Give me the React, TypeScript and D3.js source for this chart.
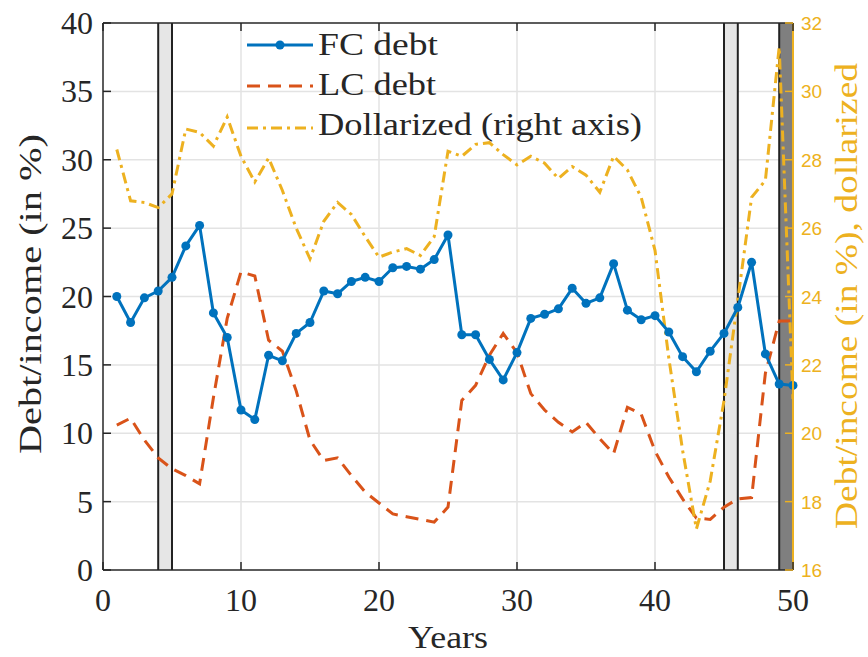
import React from "react";
import * as d3 from "d3";

const years: number[] = Array.from({ length: 50 }, (_, i) => i + 1);

const fcDebt: number[] = [
  20.0, 18.1, 19.9, 20.4, 21.4, 23.7, 25.2, 18.8, 17.0, 11.7,
  11.0, 15.7, 15.3, 17.3, 18.1, 20.4, 20.2, 21.1, 21.4, 21.1,
  22.1, 22.2, 22.0, 22.7, 24.5, 17.2, 17.2, 15.4, 13.9, 15.9,
  18.4, 18.7, 19.1, 20.6, 19.5, 19.9, 22.4, 19.0, 18.3, 18.6,
  17.4, 15.6, 14.5, 16.0, 17.3, 19.2, 22.5, 15.8, 13.6, 13.5,
];

const lcDebt: number[] = [
  10.6, 11.1, 9.5, 8.2, 7.4, 6.9, 6.3, 12.6, 18.4, 21.8,
  21.5, 16.8, 16.0, 13.1, 9.5, 8.0, 8.2, 6.9, 5.7, 4.9,
  4.1, 3.9, 3.7, 3.5, 4.6, 12.4, 13.5, 15.7, 17.3, 15.9,
  12.9, 11.7, 10.8, 10.1, 10.8, 9.6, 8.5, 11.9, 11.4, 8.7,
  6.8, 5.2, 3.8, 3.7, 4.6, 5.2, 5.3, 14.4, 18.2, 18.2,
];

const dollarized: number[] = [
  28.3, 26.8, 26.75, 26.6, 27.0, 28.9, 28.8, 28.4, 29.25, 28.1,
  27.35, 28.05, 27.1, 26.0, 25.1, 26.2, 26.75, 26.4, 25.75, 25.15,
  25.3, 25.4, 25.2, 25.75, 28.25, 28.1, 28.45, 28.5, 28.15, 27.85,
  28.1, 27.9, 27.45, 27.8, 27.55, 27.05, 28.1, 27.7, 26.9, 25.35,
  22.2, 19.5, 17.2, 18.6, 20.95, 23.9, 26.9, 27.4, 31.3, 21.0,
];

const lightBands: [number, number][] = [[4, 5], [45, 46]];
const darkBands: [number, number][] = [[49, 50]];

const xTicks: number[] = [0, 10, 20, 30, 40, 50];
const yLeftTicks: number[] = [0, 5, 10, 15, 20, 25, 30, 35, 40];
const yRightTicks: number[] = [16, 18, 20, 22, 24, 26, 28, 30, 32];

const legendLabels: string[] = ["FC debt", "LC debt", "Dollarized (right axis)"];

const BLUE = "#0072BD";
const RED = "#D95319";
const YELLOW = "#EDB120";
const AXIS = "#262626";
const SERIF = "'Liberation Serif', 'Times New Roman', serif";
const SANS = "'Liberation Sans', Arial, sans-serif";

export default function App() {
  const left = 103, right = 793, top = 23, bottom = 570;
  const x = d3.scaleLinear().domain([0, 50]).range([left, right]);
  const yL = d3.scaleLinear().domain([0, 40]).range([bottom, top]);
  const yR = d3.scaleLinear().domain([16, 32]).range([bottom, top]);

  const lineL = d3.line<number>().x((_, i) => x(years[i])).y((d) => yL(d));
  const lineR = d3.line<number>().x((_, i) => x(years[i])).y((d) => yR(d));

  const tickLen = 8;
  const redDash = "13,8";
  const yelDash = "11,5,3,5";

  return (
    <svg width={868} height={657} style={{ position: "absolute", left: 0, top: 0, background: "#fff" }}>
      <defs>
        <clipPath id="plotclip">
          <rect x={left} y={top} width={right - left} height={bottom - top} />
        </clipPath>
      </defs>
      <rect x={0} y={0} width={868} height={657} fill="#fff" />
      {xTicks.filter((t) => t > 0 && t < 50).map((t) => (
        <line key={"gx" + t} x1={x(t)} x2={x(t)} y1={top} y2={bottom} stroke="#e3e3e3" strokeWidth={1.5} />
      ))}
      {yLeftTicks.filter((t) => t > 0 && t < 40).map((t) => (
        <line key={"gy" + t} x1={left} x2={right} y1={yL(t)} y2={yL(t)} stroke="#e3e3e3" strokeWidth={1.5} />
      ))}
      {lightBands.map(([a, b], i) => (
        <g key={"lb" + i}>
          <rect x={x(a)} y={top} width={x(b) - x(a)} height={bottom - top} fill="#e6e6e6" />
          <line x1={x(a)} x2={x(a)} y1={top} y2={bottom} stroke="#222" strokeWidth={2} />
          <line x1={x(b)} x2={x(b)} y1={top} y2={bottom} stroke="#222" strokeWidth={2} />
        </g>
      ))}
      {darkBands.map(([a, b], i) => (
        <g key={"db" + i}>
          <rect x={x(a)} y={top} width={x(b) - x(a)} height={bottom - top} fill="#7f7f7f" />
          <line x1={x(a)} x2={x(a)} y1={top} y2={bottom} stroke="#222" strokeWidth={2} />
        </g>
      ))}
      <g clipPath="url(#plotclip)">
        <path d={lineL(lcDebt) || ""} fill="none" stroke={RED} strokeWidth={3} strokeDasharray={redDash} />
        <path d={lineR(dollarized) || ""} fill="none" stroke={YELLOW} strokeWidth={3} strokeDasharray={yelDash} />
      </g>
      <path d={lineL(fcDebt) || ""} fill="none" stroke={BLUE} strokeWidth={3} strokeLinejoin="round" />
      {fcDebt.map((v, i) => (
        <circle key={"m" + i} cx={x(years[i])} cy={yL(v)} r={4.5} fill={BLUE} />
      ))}
      <line x1={left} x2={right} y1={top} y2={top} stroke={AXIS} strokeWidth={1.5} />
      <line x1={left} x2={right} y1={bottom} y2={bottom} stroke={AXIS} strokeWidth={1.5} />
      <line x1={left} x2={left} y1={top} y2={bottom} stroke={AXIS} strokeWidth={1.5} />
      <line x1={right} x2={right} y1={top} y2={bottom} stroke={YELLOW} strokeWidth={2} />
      {xTicks.map((t) => (
        <g key={"xt" + t}>
          <line x1={x(t)} x2={x(t)} y1={bottom} y2={bottom - tickLen} stroke={AXIS} strokeWidth={1.5} />
          <line x1={x(t)} x2={x(t)} y1={top} y2={top + tickLen} stroke={AXIS} strokeWidth={1.5} />
          <text x={x(t)} y={611} textAnchor="middle" fontFamily={SERIF} fontSize={32} fill="#262626">{t}</text>
        </g>
      ))}
      {yLeftTicks.map((t) => (
        <g key={"yl" + t}>
          <line x1={left} x2={left + tickLen} y1={yL(t)} y2={yL(t)} stroke={AXIS} strokeWidth={1.5} />
          <text x={93} y={yL(t) + 11} textAnchor="end" fontFamily={SERIF} fontSize={32} fill="#262626">{t}</text>
        </g>
      ))}
      {yRightTicks.map((t) => (
        <g key={"yr" + t}>
          <line x1={right} x2={right - tickLen} y1={yR(t)} y2={yR(t)} stroke={YELLOW} strokeWidth={1.5} />
          <text x={801} y={yR(t) + 7} textAnchor="start" fontFamily={SANS} fontSize={19} fill={YELLOW}>{t}</text>
        </g>
      ))}
      <text x={448} y={648} textAnchor="middle" fontFamily={SERIF} fontSize={32} fill="#262626" textLength={80} lengthAdjust="spacingAndGlyphs">Years</text>
      <text transform="translate(41,294) rotate(-90)" textAnchor="middle" fontFamily={SERIF} fontSize={32} fill="#262626" textLength={320} lengthAdjust="spacingAndGlyphs">Debt/income (in %)</text>
      <text transform="translate(857,296) rotate(-90)" textAnchor="middle" fontFamily={SERIF} fontSize={32} fill={YELLOW} textLength={466} lengthAdjust="spacingAndGlyphs">Debt/income (in %), dollarized</text>
      <g>
        <line x1={247} x2={313} y1={45} y2={45} stroke={BLUE} strokeWidth={3} />
        <circle cx={280} cy={45} r={4.5} fill={BLUE} />
        <line x1={247} x2={313} y1={86} y2={86} stroke={RED} strokeWidth={3} strokeDasharray={redDash} />
        <line x1={247} x2={313} y1={128} y2={128} stroke={YELLOW} strokeWidth={3} strokeDasharray={yelDash} />
        {legendLabels.map((s, i) => (
          <text key={s} x={318} y={55 + i * 40} fontFamily={SERIF} fontSize={32} fill="#262626"
            textLength={[120, 118, 324][i]} lengthAdjust="spacingAndGlyphs">{s}</text>
        ))}
      </g>
    </svg>
  );
}
